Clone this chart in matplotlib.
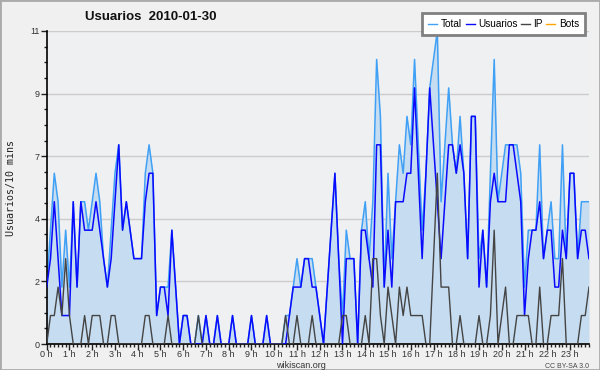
import numpy as np
import matplotlib
matplotlib.use("Agg")
import matplotlib.pyplot as plt
from matplotlib.patches import Rectangle

# one value every 10 minutes, 2010-01-30
usuarios = [2,3,5,3,1,1,1,5,2,5,4,4,
            4,5,4,3,2,3,5,7,4,5,4,3,
            3,3,5,6,6,1,2,2,1,4,2,0,
            1,1,0,0,0,0,1,0,0,1,0,0,
            0,1,0,0,0,0,1,0,0,0,1,0,
            0,0,0,0,1,2,2,2,3,3,2,2,
            1,0,2,4,6,3,0,3,3,3,0,4,
            4,3,2,7,7,2,4,2,5,5,5,6,
            6,9,6,3,6,9,7,5,3,5,7,7,
            6,7,6,3,8,8,2,4,2,5,6,5,
            5,5,7,7,6,5,1,3,4,4,5,3,
            4,4,2,2,4,3,6,6,3,4,4,3]
ip = [0,1,1,2,1,3,1,0,0,0,1,0,
      1,1,1,0,0,1,1,0,0,0,0,0,
      0,0,1,1,0,0,0,0,1,0,0,0,
      0,0,0,0,1,0,0,0,0,0,0,0,
      0,0,0,0,0,0,0,0,0,0,0,0,
      0,0,0,1,0,0,1,0,0,0,1,0,
      0,0,0,0,0,0,1,1,0,0,0,0,
      1,0,3,3,1,0,2,1,0,2,1,2,
      1,1,1,1,0,0,3,6,2,2,2,0,
      0,1,0,0,0,0,1,0,0,1,4,0,
      1,2,0,0,1,1,1,1,0,0,2,0,
      0,1,1,1,3,0,0,0,0,1,1,2]
total = [2,4,6,5,2,4,2,5,2,5,5,4,
         5,6,5,3,2,4,6,7,4,5,4,3,
         3,3,6,7,6,1,2,2,2,4,2,0,
         1,1,0,0,1,0,1,0,0,1,0,0,
         0,1,0,0,0,0,1,0,0,0,1,0,
         0,0,0,1,1,2,3,2,3,3,3,2,
         1,0,2,4,6,3,1,4,3,3,0,4,
         5,3,5,10,8,2,6,3,5,7,6,8,
         7,10,7,4,6,9,10,11,5,7,9,7,
         6,8,6,3,8,8,3,4,2,6,10,5,
         6,7,7,7,7,6,2,4,4,4,7,3,
         4,5,3,3,7,3,6,6,3,5,5,5]
bots = [0] * 144

hour_labels = ["%d h" % h for h in range(24)]
y_ticks = [0, 2.2, 4.4, 6.6, 8.8, 11]
y_labels = ["0", "2", "4", "7", "9", "11"]

x = np.arange(len(total)) / 6.0
sans = "Liberation Sans"

fig = plt.figure(figsize=(6, 3.7), dpi=100, facecolor="#f0f0f0")
ax = fig.add_axes([46.7/600, 1-344/370, (589-46.7)/600, (344-31)/370])
ax.set_facecolor("#eff0f2")

ax.fill_between(x, total, 0, color="#c6dcf0", lw=0, zorder=1)
for v in y_ticks[1:]:
    ax.axhline(v, color="#cccccc", lw=1, zorder=0.5)
ax.plot(x, bots, color="#ffa500", lw=1, zorder=1.5)
ax.plot(x, total, color="#3fa0f5", lw=1.1, zorder=2)
ax.plot(x, usuarios, color="#0a0aff", lw=1.1, zorder=3)
ax.plot(x, ip, color="#444444", lw=1, zorder=4)

ax.set_xlim(0, x[-1])
ax.set_ylim(0, 11)

ax.set_xticks(range(24))
ax.set_xticklabels(hour_labels)
ax.set_xticks(x, minor=True)
ax.set_yticks(y_ticks)
ax.set_yticklabels(y_labels)
ax.set_yticks(np.arange(0, 11.01, 0.55), minor=True)
ax.tick_params(axis="both", which="major", labelsize=6.5, colors="#222222",
               length=4, width=1, pad=1)
ax.tick_params(axis="x", which="major", pad=0)
ax.tick_params(axis="both", which="minor", length=2.5, width=1, color="#222222")
for lab in ax.get_xticklabels() + ax.get_yticklabels():
    lab.set_color("#333333")
    lab.set_family(sans)

for s in ["top", "right"]:
    ax.spines[s].set_visible(False)
ax.spines["left"].set_linewidth(1.2)
ax.spines["bottom"].set_linewidth(1.2)

ax.set_ylabel("Usuarios/10 mins", family="DejaVu Sans Mono", fontsize=7.2,
              labelpad=10, color="#222222")

fig.text(85/600, 1-17/370, "Usuarios  2010-01-30", fontsize=9.5, weight="bold",
         family=sans, ha="left", va="center", color="#111111")
fig.text(301/600, 1-365/370, "wikiscan.org", fontsize=6.5, family=sans,
         ha="center", va="center", color="#333333")
fig.text(589/600, 1-366/370, "CC BY-SA 3.0", fontsize=5, family=sans,
         ha="right", va="center", color="#444444")

handles = [plt.Line2D([], [], color=c, lw=1) for c in
           ["#3fa0f5", "#0a0aff", "#444444", "#ffa500"]]
leg = fig.legend(handles, ["Total", "Usuarios", "IP", "Bots"], ncol=4,
                 loc="upper right", bbox_to_anchor=(590/600, 1-8/370),
                 prop={"family": sans, "size": 7.2}, handlelength=0.9,
                 handletextpad=0.35, columnspacing=0.35, borderpad=0.6,
                 fancybox=False, framealpha=1, edgecolor="#808080")
leg.get_frame().set_linewidth(2)

fig.patches.append(Rectangle((0, 0), 1, 1, transform=fig.transFigure,
                             fill=False, edgecolor="#aaaaaa", lw=2))

fig.savefig("out.png", dpi=100, facecolor=fig.get_facecolor())
